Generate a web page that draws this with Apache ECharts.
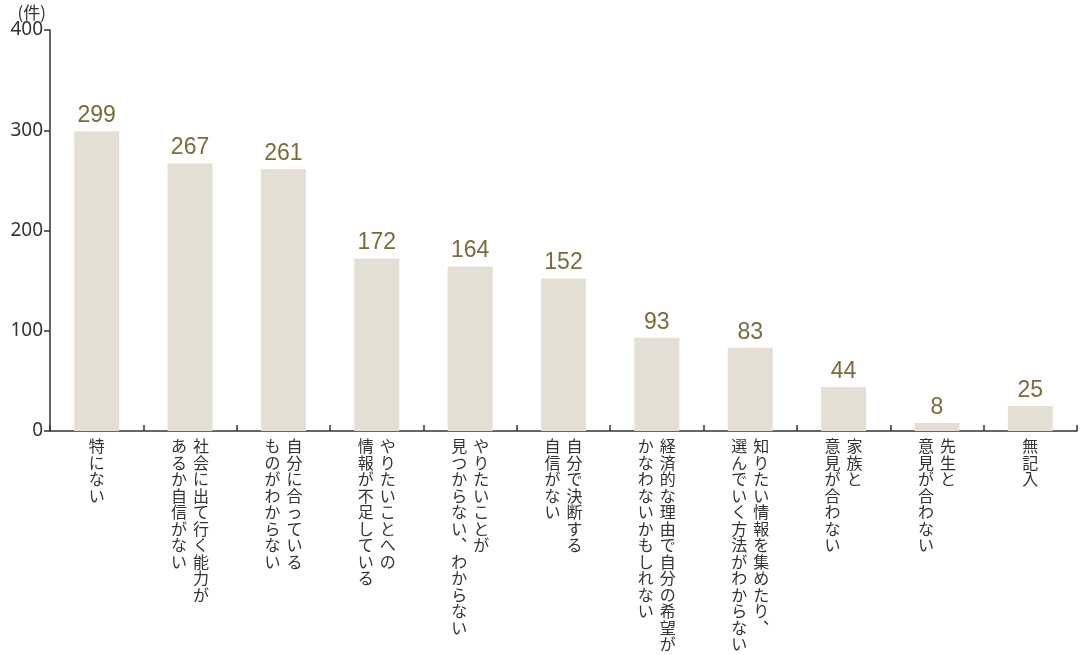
<!DOCTYPE html>
<html>
<head>
<meta charset="utf-8">
<script src="https://cdn.jsdelivr.net/npm/echarts@6/dist/echarts.min.js"></script>
<style>
  html, body { margin: 0; padding: 0; background: #fff; }
  #chart { width: 1080px; height: 655px; }
</style>
</head>
<body>
<div id="chart"></div>
<script>
// categories: '\n' separates the vertical columns (first column is on the right)
var categories = [
  '特にない',
  '社会に出て行く能力が\nあるか自信がない',
  '自分に合っている\nものがわからない',
  'やりたいことへの\n情報が不足している',
  'やりたいことが\n見つからない、わからない',
  '自分で決断する\n自信がない',
  '経済的な理由で自分の希望が\nかなわないかもしれない',
  '知りたい情報を集めたり、\n選んでいく方法がわからない',
  '家族と\n意見が合わない',
  '先生と\n意見が合わない',
  '無記入'
];
var counts = [299, 267, 261, 172, 164, 152, 93, 83, 44, 8, 25];
var yTicks = [0, 100, 200, 300, 400];

// build vertical text: each output line holds one char per column, columns right-to-left
function verticalLabel(text) {
  var cols = text.split('\n').map(function (c) {
    return Array.from(c.replace(/、/g, '\uFE11'));
  });
  cols.reverse();
  var rows = Math.max.apply(null, cols.map(function (c) { return c.length; }));
  var lines = [];
  for (var i = 0; i < rows; i++) {
    var line = '';
    cols.forEach(function (c) {
      line += '{c|' + (c[i] || '\u3000') + '}';
    });
    lines.push(line);
  }
  return lines.join('\n');
}

var chartDom = document.getElementById('chart');
var myChart = echarts.init(chartDom);
var option = {
  animation: false,
  grid: {
    left: 50,
    right: 3,
    top: 30,
    bottom: 224,
    outerBoundsMode: 'none'
  },
  xAxis: {
    type: 'category',
    data: categories,
    axisLine: { lineStyle: { color: '#333', width: 1.5 } },
    axisTick: {
      show: true,
      inside: true,
      length: 6,
      alignWithLabel: false,
      lineStyle: { color: '#333', width: 1.5 }
    },
    axisLabel: {
      interval: 0,
      margin: 7,
      color: '#333',
      fontSize: 16,
      lineHeight: 16.5,
      fontFamily: 'Noto Sans CJK JP',
      verticalAlign: 'top',
      formatter: verticalLabel,
      rich: {
        c: {
          width: 22,
          align: 'center',
          fontSize: 16,
          lineHeight: 16.5,
          color: '#333',
          fontFamily: 'Noto Sans CJK JP'
        }
      }
    }
  },
  yAxis: {
    type: 'value',
    min: yTicks[0],
    max: yTicks[yTicks.length - 1],
    interval: 100,
    name: '(件)',
    nameLocation: 'end',
    nameGap: 2,
    nameTextStyle: {
      color: '#333',
      fontSize: 17,
      fontFamily: 'Noto Sans CJK JP',
      align: 'right',
      padding: [0, 4, 0, 0]
    },
    axisLine: { show: true, lineStyle: { color: '#333', width: 1.5 } },
    axisTick: { show: true, length: 6, lineStyle: { color: '#333', width: 1.5 } },
    axisLabel: {
      margin: 7,
      color: '#333',
      fontSize: 19,
      fontFamily: 'Noto Sans'
    },
    splitLine: { show: false }
  },
  series: [{
    type: 'bar',
    data: counts,
    barWidth: 45,
    itemStyle: { color: '#e3dfd5' },
    label: {
      show: true,
      position: 'top',
      distance: 4,
      color: '#7b6a3c',
      fontSize: 23,
      fontFamily: 'Liberation Sans'
    }
  }]
};

option && myChart.setOption(option);
</script>
</body>
</html>
